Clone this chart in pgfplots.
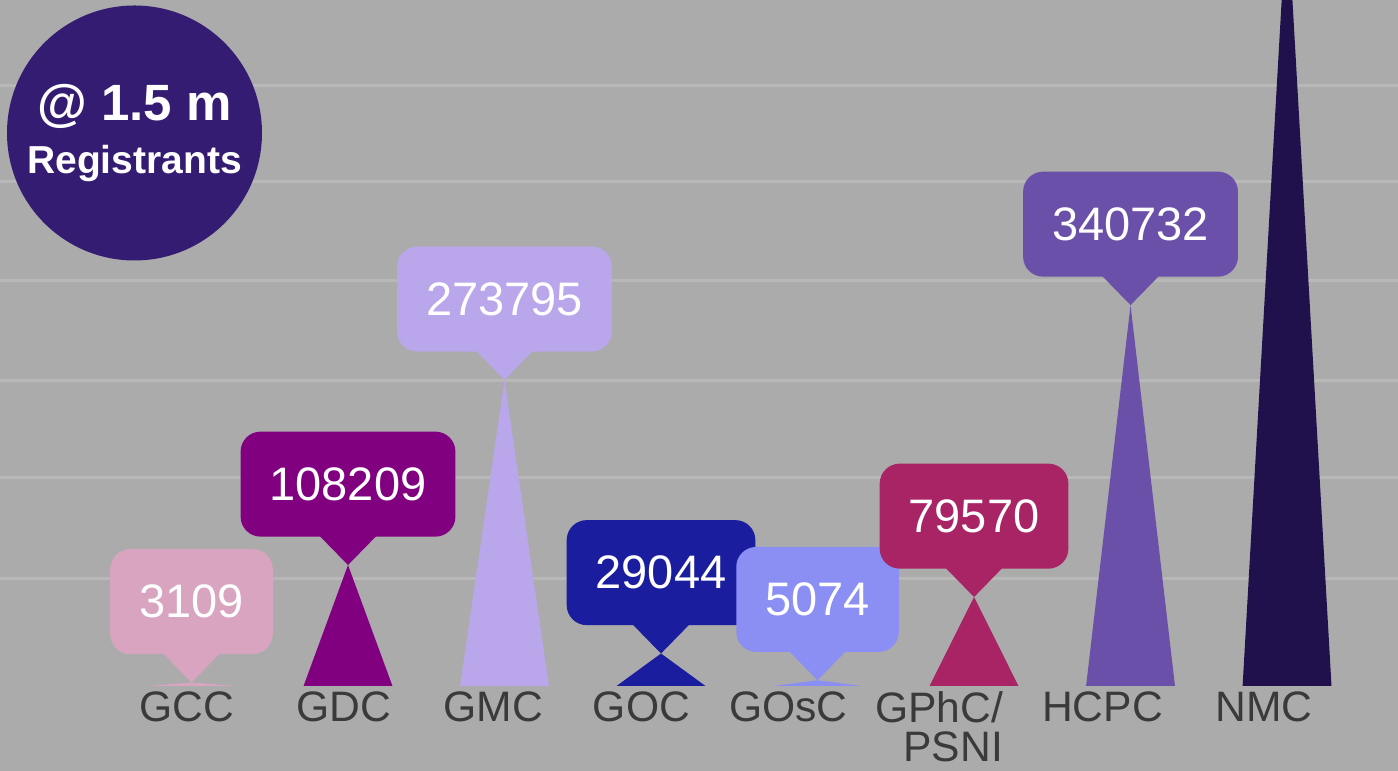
\documentclass[border=0pt]{standalone}
\usepackage{pgfplots}
\pgfplotsset{compat=1.18}
\usepackage{fontspec}
\setmainfont{Liberation Sans}

\definecolor{bgc}{RGB}{171,171,171}
\definecolor{gridc}{RGB}{184,184,184}
\definecolor{labc}{RGB}{58,58,58}
\definecolor{circc}{RGB}{53,28,115}
\definecolor{cGCC}{RGB}{216,164,192}
\definecolor{cGDC}{RGB}{128,0,128}
\definecolor{cGMC}{RGB}{186,166,234}
\definecolor{cGOC}{RGB}{26,29,158}
\definecolor{cGOsC}{RGB}{139,143,244}
\definecolor{cGPhC}{RGB}{168,36,100}
\definecolor{cHCPC}{RGB}{106,80,168}
\definecolor{cNMC}{RGB}{32,16,76}

\pgfdeclareplotmark{pointer}{%
  \pgfpathmoveto{\pgfpoint{-14.25pt}{14.6pt}}%
  \pgfpathlineto{\pgfpointorigin}%
  \pgfpathlineto{\pgfpoint{14.25pt}{14.6pt}}%
  \pgfpathclose
  \pgfusepathqfill}

\pgfplotsset{
  callout/.style={
    only marks, mark=pointer, fill=#1, draw=none,
    point meta=y,
    nodes near coords={\pgfmathprintnumber[fixed,precision=0,1000 sep={},assume math mode=true]{\pgfplotspointmeta}},
    nodes near coords style={fill=#1, text=white, rounded corners=10pt,
      minimum height=52.5pt, inner xsep=14.5pt, inner ysep=0pt,
      anchor=south, yshift=14pt, font=\fontsize{23.5}{28}\selectfont}
  },
  spike/.style={fill=#1, draw=none, mark=none}
}

\begin{document}
\begin{tikzpicture}
\begin{axis}[
  at={(0,0)}, anchor=south west,
  scale only axis, width=699pt, height=385.5pt,
  xmin=-1.2236, xmax=7.709, ymin=-76033, ymax=613627,
  axis x line=middle, axis y line=left,
  axis line style={draw=none},
  major tick length=0pt,
  ytick=\empty,
  xtick={-0.032,0.971,1.927,2.875,3.815,4.776,5.821,6.853},
  xticklabels={GCC,GDC,GMC,GOC,GOsC,{GPhC/\\PSNI},HCPC,NMC},
  xticklabel style={font=\fontsize{21.3}{19.5}\selectfont, text=labc, inner sep=0pt,
    yshift=-2.5pt, align=right, anchor=north},
  axis background/.style={fill=bgc},
  clip=true,
]
% horizontal grid lines
\pgfplotsinvokeforeach{95712,186056,272823,362273,450828,536700}{
  \draw[gridc, line width=1.5pt] (axis cs:-1.3,#1) -- (axis cs:7.8,#1);
}
% GCC
\addplot[spike=cGCC] coordinates {(-0.284,0) (0,3109) (0.284,0)};
\addplot[callout=cGCC] coordinates {(0,3109)};
% GDC
\addplot[spike=cGDC] coordinates {(0.716,0) (1,108209) (1.284,0)};
\addplot[callout=cGDC] coordinates {(1,108209)};
% GMC
\addplot[spike=cGMC] coordinates {(1.716,0) (2,273795) (2.284,0)};
\addplot[callout=cGMC] coordinates {(2,273795)};
% GOC
\addplot[spike=cGOC] coordinates {(2.716,0) (3,29044) (3.284,0)};
\addplot[callout=cGOC] coordinates {(3,29044)};
% GOsC
\addplot[spike=cGOsC] coordinates {(3.716,0) (4,5074) (4.284,0)};
\addplot[callout=cGOsC] coordinates {(4,5074)};
% GPhC/PSNI
\addplot[spike=cGPhC] coordinates {(4.716,0) (5,79570) (5.284,0)};
\addplot[callout=cGPhC] coordinates {(5,79570)};
% HCPC
\addplot[spike=cHCPC] coordinates {(5.716,0) (6,340732) (6.284,0)};
\addplot[callout=cHCPC] coordinates {(6,340732)};
% NMC (tip above the plot area)
\addplot[spike=cNMC] coordinates {(6.716,0) (7,698000) (7.284,0)};

\node[circle, fill=circc, minimum size=127.5pt, inner sep=0pt, align=center,
  text=white, font=\bfseries\fontsize{25.5}{26.5}\selectfont]
  at (rel axis cs:0.0962,0.8275)
  {@ 1.5 m\\\fontsize{19.5}{26.5}\selectfont Registrants};
\end{axis}
\pgfresetboundingbox
\useasboundingbox (0,0) rectangle (699pt,385.5pt);
\end{tikzpicture}
\end{document}
